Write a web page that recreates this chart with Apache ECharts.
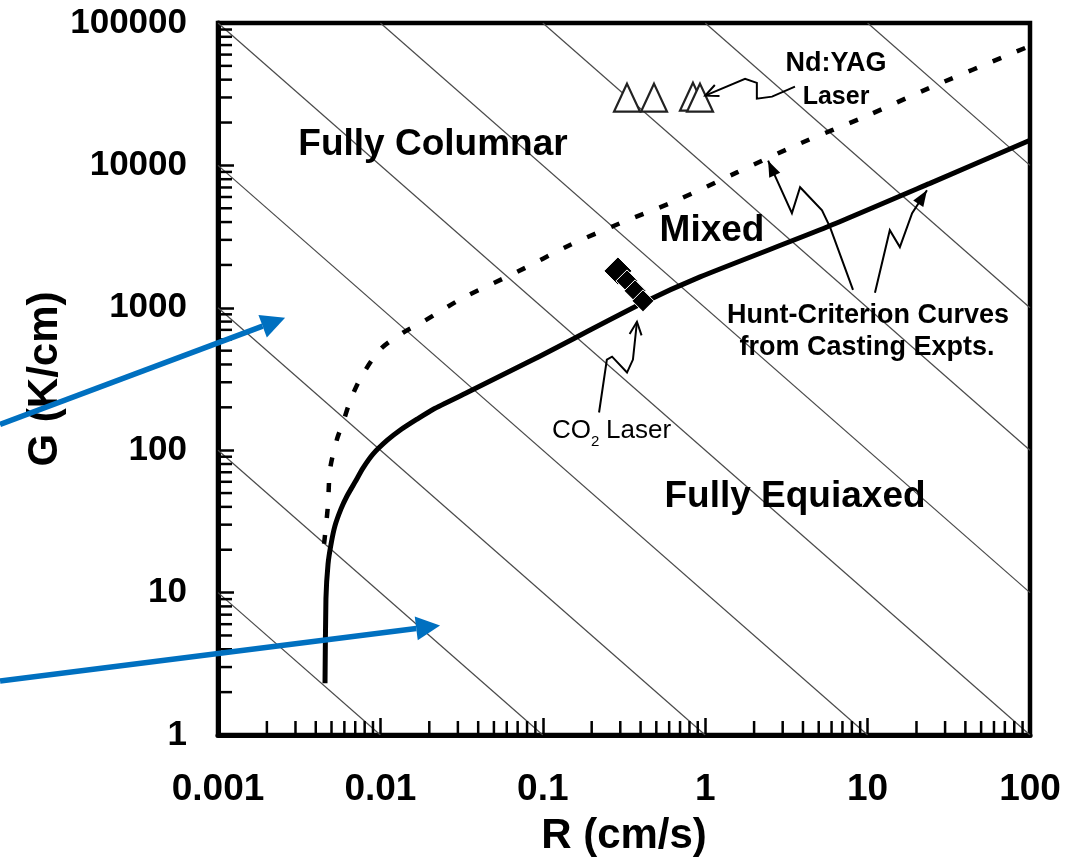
<!DOCTYPE html>
<html>
<head>
<meta charset="utf-8">
<title>G-R solidification map</title>
<script src="https://cdn.jsdelivr.net/npm/echarts@6/dist/echarts.min.js"></script>
<style>
  html, body { margin: 0; padding: 0; background: #fff; }
  #main { width: 1079px; height: 862px; }
</style>
</head>
<body>
<div id="main"></div>
<script>
// ---- data ----
var xTickLabels = ['0.001', '0.01', '0.1', '1', '10', '100'];
var yTickLabels = ['1', '10', '100', '1000', '10000', '100000'];

// lower Hunt-criterion curve (solid)
var solidR = [0.00456, 0.00462, 0.00476, 0.00497, 0.00525, 0.00572, 0.00623, 0.00698, 0.00781, 0.0090, 0.01098, 0.0132, 0.0168, 0.02117, 0.0342, 0.0874, 0.414, 0.93, 5.62, 24.2, 100];
var solidG = [2.31, 9.08, 15.9, 22.0, 29.4, 38.7, 47.7, 59.7, 74.8, 93.8, 117, 138, 165, 194, 254, 433, 1084, 1648, 3690, 7480, 15000];

// upper Hunt-criterion curve (dashed)
var dashR = [0.0045, 0.00475, 0.0049, 0.0054, 0.00589, 0.0065, 0.00748, 0.00995, 0.01377, 0.0183, 0.0323, 0.0694, 0.147, 0.30, 0.67, 1.57, 3.84, 9.37, 24.2, 100];
var dashG = [22, 40.6, 73.6, 119, 157, 220, 314, 508, 668, 798, 1175, 1785, 2760, 3930, 5690, 8930, 14260, 21700, 35100, 69000];

// Nd:YAG laser points (open triangles)
var yagR = [0.330, 0.484, 0.841, 0.929];
var yagG = [29900, 29900, 30400, 29900];

// CO2 laser points (filled squares)
var co2R = [0.290, 0.330, 0.370, 0.414];
var co2G = [1815, 1545, 1315, 1119];

// iso cooling-rate lines, G*R = const (K/s)
var coolRates = [0.01, 0.1, 1, 10, 100, 1000, 10000, 100000, 1000000];

// annotation arrows, in data coordinates [R, G]
var co2Arrow = [[0.222, 184], [0.248, 433], [0.267, 454], [0.330, 351], [0.359, 433], [0.380, 798]];
var yagArrow = [[3.57, 35700], [2.58, 30400], [2.08, 29400], [2.08, 38000], [1.76, 40600], [1.0, 30900]];
var huntArrow1 = [[8.13, 1336], [5.87, 3685], [5.24, 4845], [3.84, 7020], [3.42, 4620], [2.77, 7850], [2.44, 10800]];
var huntArrow2 = [[11.1, 1274], [13.7, 3510], [15.8, 2670], [18.8, 4620], [23.2, 6690]];
var blueArrowTop = [[4.55e-5, 152], [0.00259, 851]];
var blueArrowLow = [[4.55e-5, 2.39], [0.0233, 5.88]];

var FONT = '"Liberation Sans", Arial, sans-serif';

function zip(a, b) {
  return a.map(function (v, i) { return [v, b[i]]; });
}

// minor ticks 2..9 of each decade
function minorTicks(lo, hi) {
  var out = [];
  for (var e = lo; e < hi; e++) {
    for (var d = 2; d <= 9; d++) out.push(d * Math.pow(10, e));
  }
  return out;
}

var chart = echarts.init(document.getElementById('main'));

var series = [];

// cooling-rate lines, clipped to the box
coolRates.forEach(function (c) {
  var r0 = Math.max(0.001, c / 100000);
  var r1 = Math.min(100, c);
  series.push({
    type: 'line',
    data: [[r0, c / r0], [r1, c / r1]],
    symbol: 'none',
    silent: true,
    z: 1,
    lineStyle: { color: '#4a4a4a', width: 1.2 }
  });
});

series.push({
  name: 'lower',
  type: 'line',
  data: zip(solidR, solidG),
  symbol: 'none',
  smooth: 0.2,
  z: 3,
  lineStyle: { color: '#000', width: 5 }
});

series.push({
  name: 'upper',
  type: 'line',
  data: zip(dashR, dashG),
  symbol: 'none',
  smooth: 0.3,
  z: 3,
  lineStyle: { color: '#000', width: 4.5, type: [9, 17] }
});

series.push({
  name: 'Nd:YAG',
  type: 'scatter',
  data: zip(yagR, yagG),
  symbol: 'triangle',
  symbolSize: [26, 28],
  z: 4,
  itemStyle: { color: '#fff', borderColor: '#222', borderWidth: 2.2, opacity: 1 }
});

series.push({
  name: 'CO2',
  type: 'scatter',
  data: zip(co2R, co2G),
  symbol: 'diamond',
  symbolSize: function (v, p) { return p.dataIndex === 0 ? 28 : 22; },
  z: 4,
  itemStyle: { color: '#000', borderColor: '#fff', borderWidth: 1, opacity: 1 }
});

// minor ticks along the bottom and left axes
series.push({
  type: 'custom',
  silent: true,
  clip: false,
  z: 5,
  data: minorTicks(-3, 2).map(function (v) { return [v, 1]; }),
  renderItem: function (params, api) {
    var p = api.coord([api.value(0), 1]);
    return { type: 'line', shape: { x1: p[0], y1: p[1], x2: p[0], y2: p[1] - 14 },
      style: { stroke: '#000', lineWidth: 2.5 } };
  }
});
series.push({
  type: 'custom',
  silent: true,
  clip: false,
  z: 5,
  data: minorTicks(0, 5).map(function (v) { return [0.001, v]; }),
  renderItem: function (params, api) {
    var p = api.coord([0.001, api.value(1)]);
    return { type: 'line', shape: { x1: p[0], y1: p[1], x2: p[0] + 14, y2: p[1] },
      style: { stroke: '#000', lineWidth: 2.5 } };
  }
});

var option = {
  animation: false,
  backgroundColor: '#fff',
  grid: {
    left: 218, top: 23, right: 49, bottom: 125,
    show: true, borderColor: '#000', borderWidth: 4.5
  },
  xAxis: {
    type: 'log',
    logBase: 10,
    min: 0.001,
    max: 100,
    name: 'R (cm/s)',
    nameLocation: 'middle',
    nameGap: 80,
    nameMoveOverlap: false,
    nameTextStyle: { fontFamily: FONT, fontWeight: 'bold', fontSize: 42, color: '#000' },
    axisLine: { lineStyle: { color: '#000', width: 5 } },
    axisTick: { inside: true, length: 17, lineStyle: { color: '#000', width: 2.5 } },
    splitLine: { show: false },
    axisLabel: {
      margin: 36,
      fontFamily: FONT, fontWeight: 'bold', fontSize: 37, color: '#000',
      formatter: function (v, i) { return xTickLabels[i]; }
    }
  },
  yAxis: {
    type: 'log',
    logBase: 10,
    min: 1,
    max: 100000,
    name: 'G (K/cm)',
    nameLocation: 'middle',
    nameRotate: 90,
    nameGap: 152,
    nameMoveOverlap: false,
    nameTextStyle: { fontFamily: FONT, fontWeight: 'bold', fontSize: 42, color: '#000' },
    axisLine: { lineStyle: { color: '#000', width: 5 } },
    axisTick: { inside: true, length: 16, lineStyle: { color: '#000', width: 2.5 } },
    splitLine: { show: false },
    axisLabel: {
      margin: 31,
      fontFamily: FONT, fontWeight: 'bold', fontSize: 35, color: '#000',
      formatter: function (v, i) { return yTickLabels[i]; }
    }
  },
  series: series
};

chart.setOption(option);

// ---- annotations (positions taken through the chart's scales) ----
function toPx(p) { return chart.convertToPixel({ gridIndex: 0 }, p); }

function headPts(tip, from, len, half) {
  var dx = tip[0] - from[0], dy = tip[1] - from[1];
  var d = Math.sqrt(dx * dx + dy * dy);
  var ux = dx / d, uy = dy / d;
  var bx = tip[0] - ux * len, by = tip[1] - uy * len;
  return { base: [bx, by], pts: [tip, [bx - uy * half, by + ux * half], [bx + uy * half, by - ux * half]] };
}

var graphic = [];

function blackArrow(path, filled) {
  var pts = path.map(toPx);
  var n = pts.length;
  var h = headPts(pts[n - 1], pts[n - 2], filled ? 16 : 13, 6);
  graphic.push({ type: 'polyline', z: 10, shape: { points: pts },
    style: { stroke: '#000', lineWidth: 2, fill: null } });
  if (filled) {
    graphic.push({ type: 'polygon', z: 10, shape: { points: h.pts }, style: { fill: '#000' } });
  } else {
    graphic.push({ type: 'polyline', z: 10, shape: { points: [h.pts[1], h.pts[0], h.pts[2]] },
      style: { stroke: '#000', lineWidth: 2, fill: null } });
  }
}

function blueArrow(path) {
  var a = toPx(path[0]), b = toPx(path[1]);
  var h = headPts(b, a, 24, 12);
  graphic.push({ type: 'line', z: 12, shape: { x1: a[0], y1: a[1], x2: h.base[0], y2: h.base[1] },
    style: { stroke: '#0070C0', lineWidth: 5.5 } });
  graphic.push({ type: 'polygon', z: 12, shape: { points: h.pts }, style: { fill: '#0070C0' } });
}

blackArrow(co2Arrow, false);
blackArrow(yagArrow, false);
blackArrow(huntArrow1, true);
blackArrow(huntArrow2, true);
blueArrow(blueArrowTop);
blueArrow(blueArrowLow);

function label(text, x, y, size, weight) {
  graphic.push({ type: 'text', x: x, y: y, z: 11,
    style: { text: text, fontFamily: FONT, fontSize: size, fontWeight: weight || 'bold',
      fill: '#000', align: 'center', verticalAlign: 'middle' } });
}

label('Fully Columnar', 433, 145, 37);
label('Mixed', 712, 231, 37);
label('Fully Equiaxed', 795, 497, 37);
label('Nd:YAG', 836, 64, 27);
label('Laser', 836, 97, 25);
label('Hunt-Criterion Curves', 868, 316, 27);
label('from Casting Expts.', 867, 348, 27);

// CO2 Laser with subscript
graphic.push({ type: 'text', x: 552, y: 431, z: 11,
  style: { text: 'CO', fontFamily: FONT, fontSize: 26, fill: '#000', align: 'left', verticalAlign: 'middle' } });
graphic.push({ type: 'text', x: 591, y: 442, z: 11,
  style: { text: '2', fontFamily: FONT, fontSize: 15, fill: '#000', align: 'left', verticalAlign: 'middle' } });
graphic.push({ type: 'text', x: 606, y: 431, z: 11,
  style: { text: 'Laser', fontFamily: FONT, fontSize: 26, fill: '#000', align: 'left', verticalAlign: 'middle' } });

chart.setOption({ graphic: graphic });
</script>
</body>
</html>
